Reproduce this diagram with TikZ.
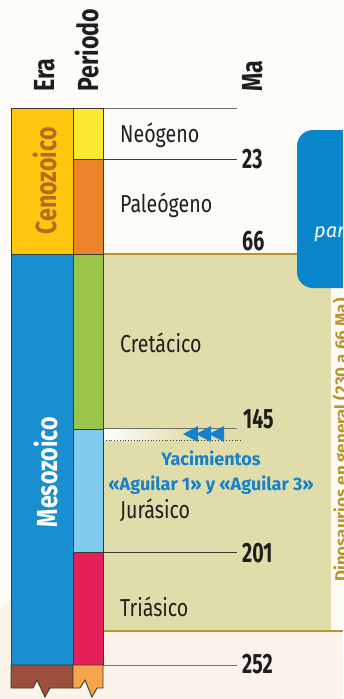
\documentclass[tikz,border=0pt]{standalone}
\usepackage{fontspec}
\setmainfont{Fira Sans}
\newfontfamily\condfont{Fira Sans}[FakeStretch=0.8]
\newfontfamily\numfont{Fira Sans}[FakeStretch=0.7]
\definecolor{bgcream}{HTML}{FCF4EA}
\definecolor{colline}{HTML}{3B3A2C}
\definecolor{tickgray}{HTML}{6E6E6E}
\definecolor{cenozoic}{HTML}{FDC70F}
\definecolor{cenotext}{HTML}{B6691F}
\definecolor{neogene}{HTML}{FBE932}
\definecolor{paleogene}{HTML}{EE8429}
\definecolor{mesozoic}{HTML}{1A8FD0}
\definecolor{cretaceous}{HTML}{9BC44A}
\definecolor{jurassic}{HTML}{80CBEE}
\definecolor{triassic}{HTML}{E6205A}
\definecolor{paleobrown}{HTML}{9B503C}
\definecolor{permorange}{HTML}{F4A54E}
\definecolor{dinobeige}{HTML}{E1DDAA}
\definecolor{dinogold}{HTML}{B8962E}
\definecolor{boxblue}{HTML}{0A86CC}
\definecolor{arrowblue}{HTML}{1580CC}
\definecolor{textdark}{HTML}{1E1E1E}
\begin{document}
\begin{tikzpicture}[x=1pt,y=-1pt,
    colbox/.style={draw=colline, line width=0.9pt},
    tickline/.style={line width=0.9pt},
    headlbl/.style={rotate=90, anchor=west, inner sep=0pt, text=textdark,
      font=\condfont\bfseries\fontsize{29}{29}\selectfont},
    eralbl/.style={rotate=90, inner sep=0pt,
      font=\condfont\bfseries\fontsize{29}{29}\selectfont},
    periodlbl/.style={anchor=base west, inner sep=0pt, text=textdark,
      font=\condfont\fontsize{24.5}{24.5}\selectfont},
    malbl/.style={anchor=base west, inner sep=0pt, text=textdark,
      font=\numfont\bfseries\fontsize{28}{28}\selectfont}]
  \clip (0,0) rectangle (343,699);
  \fill[bgcream] (0,0) rectangle (343,699);
  \fill[white!70!bgcream] (0,0) -- (343,0) -- (343,260) -- (0,610) -- cycle;

  \fill[dinobeige] (103,254) rectangle (331,631);
  \fill[white!60!bgcream] (331,254) rectangle (343,631);
  \shade[left color=white, right color=dinobeige] (103,429) rectangle (192,440);
  \draw[dinogold, line width=1.5pt] (103,254) -- (343,254);
  \draw[dinogold, line width=1.5pt] (103,631) -- (343,631);

  \fill[boxblue, rounded corners=16pt] (297,130) rectangle (380,288);
  \node[anchor=base west, inner sep=0pt, text=white,
    font=\itshape\fontsize{20}{20}\selectfont] (boxtext) at (314,237) {par};
  \node[rotate=90, anchor=base west, inner sep=0pt, text=dinogold,
    font=\bfseries\fontsize{17}{17}\selectfont] (dinotext) at (347,582)
    {Dinosaurios en general (230 a 66 Ma)};

  \draw[tickline, tickgray] (103,108) -- (237,108);
  \draw[tickline, colline] (73,159) -- (237,159);
  \draw[tickline, tickgray] (103,428.5) -- (237,428.5);
  \draw[line width=0.8pt, dotted, colline] (103,440) -- (241,440);
  \draw[tickline, colline] (73,552) -- (237,552);
  \draw[tickline, tickgray] (103,665) -- (237,665);

  \filldraw[colbox, fill=cenozoic] (11,108) rectangle (73,254);
  \filldraw[colbox, fill=mesozoic] (11,254) rectangle (73,665);
  \filldraw[colbox, fill=neogene] (73,108) rectangle (103,159);
  \filldraw[colbox, fill=paleogene] (73,159) rectangle (103,254);
  \filldraw[colbox, fill=cretaceous] (73,254) rectangle (103,429);
  \filldraw[colbox, fill=jurassic] (73,429) rectangle (103,552);
  \filldraw[colbox, fill=triassic] (73,552) rectangle (103,665);
  \filldraw[colbox, fill=paleobrown] (11,665) -- (73,665) -- (73,688) -- (50,688)
    -- (45,697) -- (37,680) -- (33,688) -- (11,688) -- cycle;
  \filldraw[colbox, fill=permorange] (73,665) -- (103,665) -- (103,688) -- (97,688)
    -- (92,697) -- (85,680) -- (80,688) -- (73,688) -- cycle;

  \node[headlbl] (era) at (45,92) {Era};
  \node[headlbl] (periodo) at (87,92) {Periodo};
  \node[headlbl] (ma) at (253,92) {Ma};

  \node[eralbl, text=cenotext] (ceno) at (45,181) {Cenozoico};
  \node[eralbl, text=white] (meso) at (46,472) {Mesozoico};

  \node[periodlbl] (neo) at (120,142) {Neógeno};
  \node[periodlbl] (paleo) at (120,212) {Paleógeno};
  \node[periodlbl] (creta) at (120,352) {Cretácico};
  \node[periodlbl] (jura) at (120,518) {Jurásico};
  \node[periodlbl] (tria) at (120,616) {Triásico};

  \node[malbl] (ma23) at (242,168) {23};
  \node[malbl] (ma66) at (242,250) {66};
  \node[malbl] (ma145) at (243,428) {145};
  \node[malbl] (ma201) at (242,562) {201};
  \node[malbl] (ma252) at (242,673) {252};

  \fill[arrowblue] (183,434) -- (198,426) -- (198,442) -- cycle;
  \fill[arrowblue] (196,434) -- (211,426) -- (211,442) -- cycle;
  \fill[arrowblue] (209,434) -- (224,426) -- (224,442) -- cycle;
  \node[align=center, inner sep=0pt, text=arrowblue,
    font=\bfseries\fontsize{18}{25}\selectfont] (yac) at (211,473)
    {Yacimientos\\«Aguilar 1» y «Aguilar 3»};
\end{tikzpicture}
\end{document}
